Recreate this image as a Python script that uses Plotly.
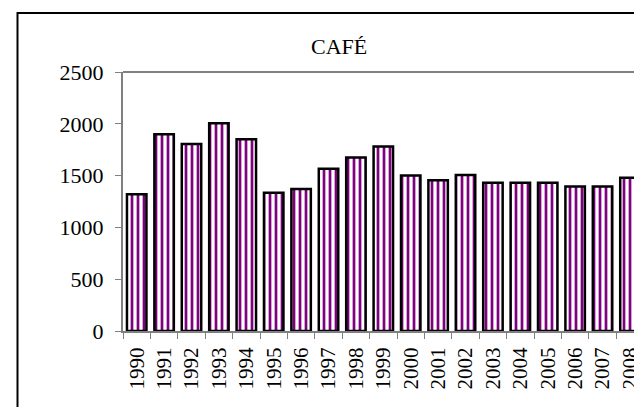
import plotly.graph_objects as go

years = [str(y) for y in range(1990, 2009)]
values = [1320, 1900, 1805, 2005, 1850, 1335, 1370, 1565, 1675, 1780,
          1500, 1455, 1505, 1432, 1432, 1432, 1395, 1395, 1480]
y_ticks = [0, 500, 1000, 1500, 2000, 2500]
title_text = "CAFÉ"

# The page body has an 8px margin, so the figure is shrunk by 8px and
# page pixel positions are converted to figure positions below.
OFF = 8
W, H = 642 - OFF, 407 - OFF
PLOT_LEFT, PLOT_TOP, PLOT_BOTTOM = 123, 72, 331   # page pixels
L = PLOT_LEFT - OFF
T = PLOT_TOP - OFF
B = H - (PLOT_BOTTOM - OFF)
R = 0
pw, ph = W - L - R, H - T - B

def px_x(p):
    return (p - OFF - L) / pw

def px_y(p):
    return (PLOT_BOTTOM - p) / ph

FONT = "Times New Roman"

fig = go.Figure(go.Bar(
    x=years, y=values,
    marker=dict(
        color="white",
        line=dict(color="black", width=2.5),
        pattern=dict(shape="|", fgcolor="#800080", bgcolor="white",
                     size=6, solidity=0.45, fillmode="replace"),
    ),
))

fig.update_layout(
    width=W, height=H,
    margin=dict(l=L, r=R, t=T, b=B, autoexpand=False),
    paper_bgcolor="white", plot_bgcolor="white",
    showlegend=False,
    bargap=0.29,
    xaxis=dict(
        type="category", range=[-0.5, 18.44], automargin=False,
        tickangle=-90, tickson="boundaries", ticks="outside", ticklen=6,
        tickcolor="#808080", showline=True, linecolor="#808080", linewidth=2,
        showgrid=False, zeroline=False, ticklabelstandoff=6,
        tickfont=dict(family=FONT, size=21, color="black"),
    ),
    yaxis=dict(
        range=[0, 2500], tickvals=y_ticks, ticks="outside", ticklen=6,
        automargin=False,
        tickcolor="#808080", showline=True, linecolor="#808080", linewidth=2,
        showgrid=False, zeroline=False, ticklabelstandoff=7,
        tickfont=dict(family=FONT, size=22, color="black"),
    ),
    shapes=[
        dict(type="line", xref="paper", yref="paper", x0=0, x1=1.2, y0=1, y1=1,
             line=dict(color="#808080", width=2)),
        dict(type="rect", xref="paper", yref="paper",
             x0=px_x(17.5), x1=1.5, y0=-0.6, y1=px_y(13),
             line=dict(color="black", width=2), fillcolor="rgba(0,0,0,0)"),
    ],
    annotations=[
        dict(text=title_text, xref="paper", yref="paper",
             x=px_x(339), y=px_y(47), xanchor="center", yanchor="middle",
             showarrow=False, font=dict(family=FONT, size=22, color="black")),
    ],
)

fig.write_html("out.html")
